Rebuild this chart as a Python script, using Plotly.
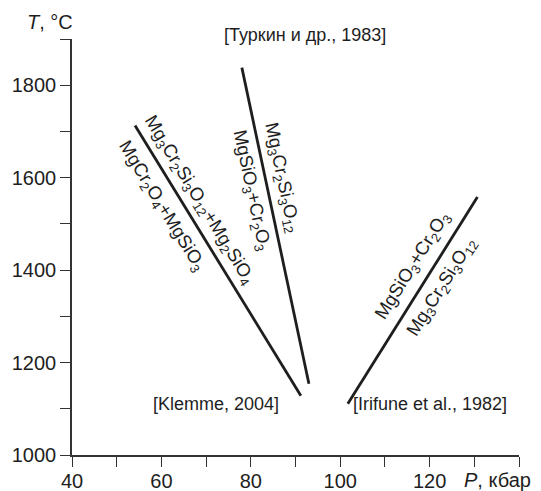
import math
import plotly.graph_objects as go

# Data (P in kbar, T in °C)
klemme_P = [54.1, 91.2]
klemme_T = [1713, 1128]
turkin_P = [78.0, 93.0]
turkin_T = [1838, 1154]
irifune_P = [101.7, 130.7]
irifune_T = [1111, 1558]

x_ticks = [40, 50, 60, 70, 80, 90, 100, 110, 120, 130, 140]
x_ticktext = ["40", "", "60", "", "80", "", "100", "", "120", "", ""]
y_ticks = [1000, 1100, 1200, 1300, 1400, 1500, 1600, 1700, 1800, 1900]
y_ticktext = ["1000", "", "1200", "", "1400", "", "1600", "", "1800", ""]

X_RANGE = [40, 140]
Y_RANGE = [1000, 1900]
W, H = 541, 491
M = dict(l=72, r=22, t=39, b=36, autoexpand=False)

FONT = "Liberation Sans, Arial, sans-serif"
INK = "#1e1e1e"
AX = "#333333"

PW = W - M["l"] - M["r"]
PH = H - M["t"] - M["b"]
px_per_x = PW / (X_RANGE[1] - X_RANGE[0])
px_per_y = PH / (Y_RANGE[1] - Y_RANGE[0])


def angle(P, T):
    dx = (P[1] - P[0]) * px_per_x
    dy = -(T[1] - T[0]) * px_per_y
    return math.degrees(math.atan2(dy, dx))


def py(pix):
    # pixel row from top -> paper y
    return (H - M["b"] - pix) / PH


def px(pix):
    return (pix - M["l"]) / PW


fig = go.Figure()
for P, T in [(klemme_P, klemme_T), (turkin_P, turkin_T), (irifune_P, irifune_T)]:
    fig.add_trace(go.Scatter(x=P, y=T, mode="lines",
                             line=dict(color=INK, width=2.8),
                             showlegend=False, hoverinfo="skip"))

a_k = angle(klemme_P, klemme_T)
a_t = angle(turkin_P, turkin_T)
a_i = angle(irifune_P, irifune_T)

lab = dict(font=dict(family=FONT, size=18.5, color=INK), showarrow=False,
           xref="x", yref="y", xanchor="center", yanchor="middle")
annotations = [
    dict(x=68.4, y=1551, text="Mg<sub>3</sub>Cr<sub>2</sub>Si<sub>3</sub>O<sub>12</sub>+Mg<sub>2</sub>SiO<sub>4</sub>",
         textangle=a_k, **lab),
    dict(x=60.0, y=1538, text="MgCr<sub>2</sub>O<sub>4</sub>+MgSiO<sub>3</sub>",
         textangle=a_k, **lab),
    dict(x=87.0, y=1600, text="Mg<sub>3</sub>Cr<sub>2</sub>Si<sub>3</sub>O<sub>12</sub>",
         textangle=a_t, **lab),
    dict(x=80.2, y=1572, text="MgSiO<sub>3</sub>+Cr<sub>2</sub>O<sub>3</sub>",
         textangle=a_t, **lab),
    dict(x=116.3, y=1408, text="MgSiO<sub>3</sub>+Cr<sub>2</sub>O<sub>3</sub>",
         textangle=a_i, **lab),
    dict(x=122.8, y=1363, text="Mg<sub>3</sub>Cr<sub>2</sub>Si<sub>3</sub>O<sub>12</sub>",
         textangle=a_i, **lab),
]

ref = dict(font=dict(family=FONT, size=18, color=INK), showarrow=False,
           xanchor="center", yanchor="middle")
annotations += [
    dict(x=px(305), xref="paper", y=py(35), yref="paper",
         text="[Туркин и др., 1983]", **ref),
    dict(x=72.3, xref="x", y=1111, yref="y", text="[Klemme, 2004]", **ref),
    dict(x=120.0, xref="x", y=1111, yref="y", text="[Irifune et al., 1982]", **ref),
]

annotations += [
    dict(x=px(50), y=py(22), xref="paper", yref="paper",
         xanchor="center", yanchor="middle",
         text="<i>T</i>, °C", showarrow=False,
         font=dict(family=FONT, size=20, color=INK)),
    dict(x=px(462), xanchor="left", yanchor="middle",
         y=py(480), xref="paper", yref="paper",
         text="<i>P</i>, кбар", showarrow=False,
         font=dict(family=FONT, size=20, color=INK)),
]

fig.update_layout(
    width=W, height=H, margin=M,
    paper_bgcolor="white", plot_bgcolor="white",
    annotations=annotations,
    xaxis=dict(range=X_RANGE, tickvals=x_ticks, ticktext=x_ticktext, automargin=False,
               showgrid=False, zeroline=False, showline=True, linecolor=AX, linewidth=1.5,
               ticks="outside", ticklen=10, tickwidth=1.3, tickcolor=AX,
               ticklabelstandoff=-3,
               tickfont=dict(family=FONT, size=20, color=INK)),
    yaxis=dict(range=Y_RANGE, tickvals=y_ticks, ticktext=y_ticktext, automargin=False,
               showgrid=False, zeroline=False, showline=True, linecolor=AX, linewidth=1.5,
               ticks="outside", ticklen=10, tickwidth=1.3, tickcolor=AX,
               tickfont=dict(family=FONT, size=20, color=INK)),
)

fig.write_html("out.html")
